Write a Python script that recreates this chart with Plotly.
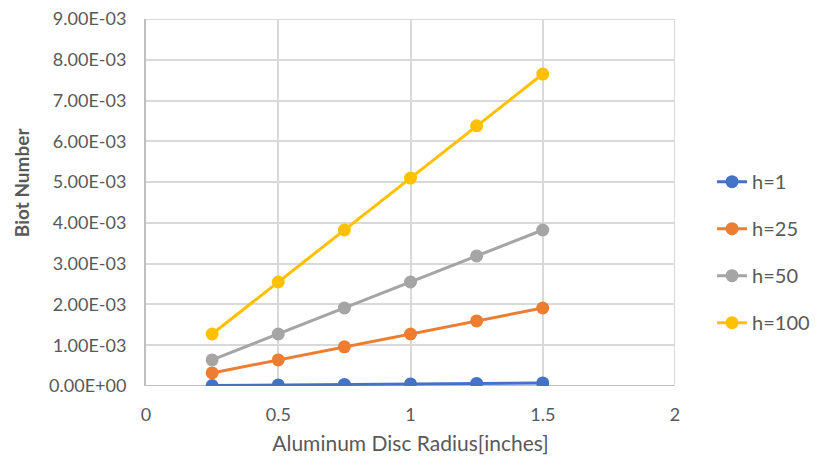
import plotly.graph_objects as go

radius = [0.25, 0.5, 0.75, 1.0, 1.25, 1.5]
h1 = [0.0128e-3, 0.0255e-3, 0.0383e-3, 0.051e-3, 0.0638e-3, 0.0765e-3]
h25 = [0.32e-3, 0.64e-3, 0.96e-3, 1.275e-3, 1.595e-3, 1.913e-3]
h50 = [0.64e-3, 1.275e-3, 1.913e-3, 2.55e-3, 3.19e-3, 3.826e-3]
h100 = [1.275e-3, 2.55e-3, 3.826e-3, 5.10e-3, 6.38e-3, 7.65e-3]
series_names = ["h=1", "h=25", "h=50", "h=100"]
colors = ["#4472C4", "#ED7D31", "#A5A5A5", "#FFC000"]
y_tickvals = [round(i * 1e-3, 6) for i in range(10)]
y_ticktext = ["0.00E+00"] + [f"{i}.00E-03" for i in range(1, 10)]
x_tickvals = [0, 0.5, 1, 1.5, 2]
x_ticktext = ["0", "0.5", "1", "1.5", "2"]
y_max = 0.009
x_max = 2

font = "Lato, 'Open Sans', sans-serif"
fig = go.Figure()
for name, ys, c in zip(series_names, [h1, h25, h50, h100], colors):
    fig.add_trace(go.Scatter(x=radius, y=ys, name=name, mode="lines+markers",
                             line=dict(color=c, width=3),
                             marker=dict(color=c, size=13),
                             legendgroup=name))

fig.update_layout(
    width=828, height=473,
    margin=dict(l=138, r=161, t=11, b=95),
    paper_bgcolor="white", plot_bgcolor="white",
    font=dict(family=font, color="#595959", size=18),
    legend=dict(x=1.07, y=0.61, xanchor="left", yanchor="top",
                tracegroupgap=18, font=dict(size=20, color="#595959")),
    xaxis=dict(range=[0, x_max], tickvals=x_tickvals, ticktext=x_ticktext,
               showgrid=True, gridcolor="#D9D9D9", gridwidth=2,
               zeroline=False, showline=False, ticks="", automargin=False,
               tickfont=dict(size=18), ticklabelstandoff=16, ticklabeloverflow="allow",
               title=dict(text="Aluminum Disc Radius[inches]", font=dict(size=21), standoff=12)),
    yaxis=dict(range=[0, y_max], tickvals=y_tickvals, ticktext=y_ticktext,
               showgrid=True, gridcolor="#D9D9D9", gridwidth=2,
               zeroline=False, showline=True, linecolor="#BFBFBF", linewidth=2,
               ticks="", automargin=False, tickfont=dict(size=18), ticklabelstandoff=14,
               ticklabeloverflow="allow"),
    annotations=[dict(text="<b>Biot Number</b>", textangle=-90, xref="paper", yref="paper",
                      x=-0.234, y=0.556, xanchor="center", yanchor="middle", showarrow=False,
                      font=dict(size=19, color="#595959"))],
)
fig.add_shape(type="line", xref="x", yref="y", x0=0, x1=x_max, y0=0, y1=0,
              line=dict(color="#BFBFBF", width=2), layer="below")
fig.add_shape(type="line", xref="x", yref="y", x0=0, x1=x_max, y0=y_max, y1=y_max,
              line=dict(color="#D9D9D9", width=2), layer="below")
fig.add_shape(type="line", xref="x", yref="y", x0=x_max, x1=x_max, y0=0, y1=y_max,
              line=dict(color="#D9D9D9", width=2), layer="below")
fig.write_html("out.html")
